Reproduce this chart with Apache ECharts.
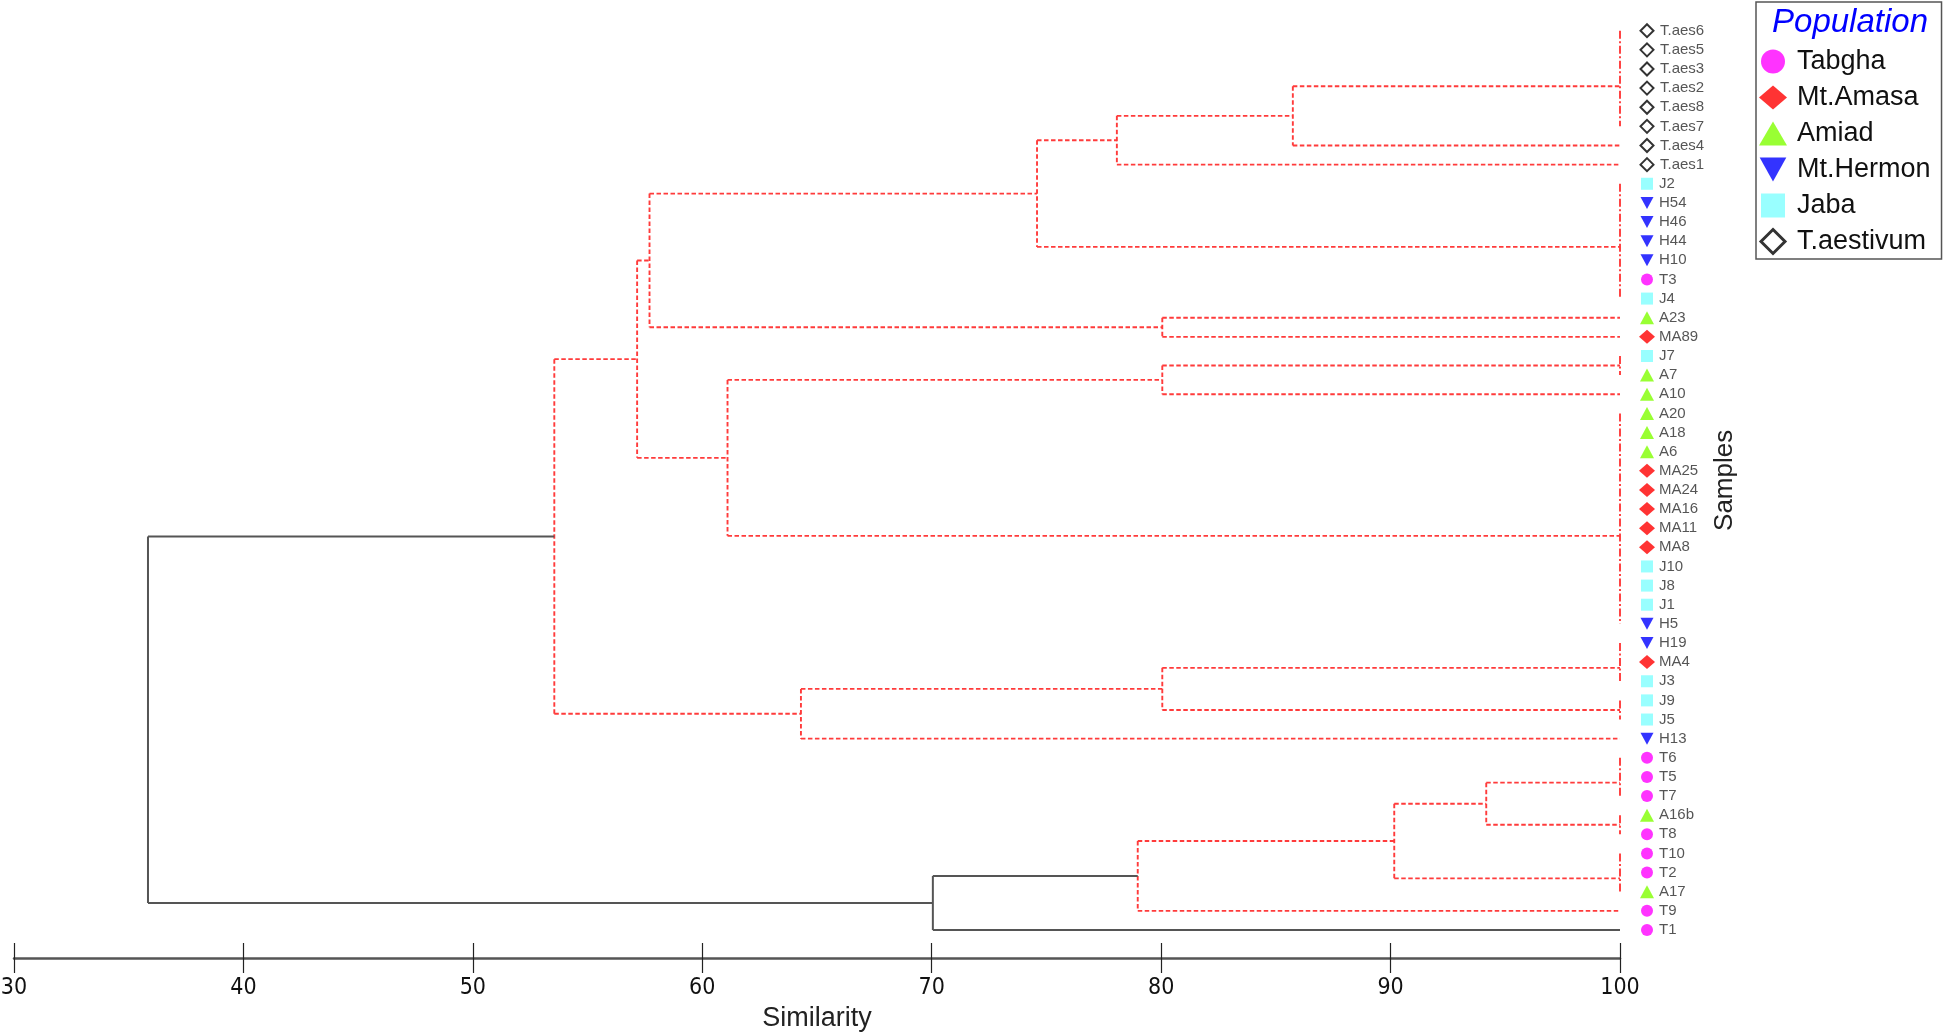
<!DOCTYPE html>
<html>
<head>
<meta charset="utf-8">
<script src="https://cdn.jsdelivr.net/npm/echarts@6/dist/echarts.min.js"></script>
<style>
html,body{margin:0;padding:0;background:#fff;}
#chart{width:1946px;height:1032px;}
</style>
</head>
<body>
<div id="chart"></div>
<script>
// ---- data ----
const populations = ['Tabgha', 'Mt.Amasa', 'Amiad', 'Mt.Hermon', 'Jaba', 'T.aestivum'];
const leafNames = ['T.aes6','T.aes5','T.aes3','T.aes2','T.aes8','T.aes7','T.aes4','T.aes1',
  'J2','H54','H46','H44','H10','T3','J4','A23','MA89','J7','A7','A10','A20','A18','A6',
  'MA25','MA24','MA16','MA11','MA8','J10','J8','J1','H5','H19','MA4','J3','J9','J5','H13',
  'T6','T5','T7','A16b','T8','T10','T2','A17','T9','T1'];
const leafPop = [5,5,5,5,5,5,5,5, 4,3,3,3,3,0,4, 2,1, 4,2,2, 2,2,2, 1,1,1,1,1,
  4,4,4, 3,3, 1, 4,4,4, 3, 0,0,0, 2, 0,0,0, 2, 0,0];
// groups of samples joined at similarity 100 (first row, last row, row of link)
const tieFirst = [0, 8, 17, 20, 32, 35, 38, 41, 43];
const tieLast  = [5, 14, 18, 31, 34, 36, 40, 42, 45];
const tieRow   = [2.9, 11.3, 17.5, 26.4, 33.3, 35.5, 39.3, 41.5, 44.3];
// internal nodes: similarity level and the two joined branches
const nodeSim   = [85.74, 78.07, 74.59, 80.05, 57.7, 80.05, 61.1, 57.16, 80.05, 64.3, 53.55, 94.17, 90.16, 78.98, 70.05, 35.84];
const nodeLeft  = ['g0','n0','n1','r15','n2','g2','n5','n4','g4','n8','n7','g6','n11','n12','n13','n10'];
const nodeRight = ['r6','r7','g1','r16','n3','r19','g3','n6','g5','r37','n9','g7','g8','r46','r47','n14'];
const solidNodes = [14, 15];
const xTicks = [30, 40, 50, 60, 70, 80, 90, 100];

// ---- build the dendrogram segments ----
const segments = [];
function place(ref) {
  const t = ref[0], i = parseInt(ref.slice(1), 10);
  if (t === 'r') return { x: 100, y: i };
  if (t === 'g') {
    segments.push([100, tieFirst[i], 100, tieLast[i], 2]);
    return { x: 100, y: tieRow[i] };
  }
  const a = place(nodeLeft[i]);
  const b = place(nodeRight[i]);
  const x = nodeSim[i];
  const k = solidNodes.indexOf(i) >= 0 ? 1 : 0;
  segments.push([x, a.y, x, b.y, k]);
  segments.push([x, a.y, a.x, a.y, k]);
  segments.push([x, b.y, b.x, b.y, k]);
  return { x: x, y: (a.y + b.y) / 2 };
}
place('n' + (nodeSim.length - 1));

const popSymbols = ['circle', 'diamond', 'triangle', 'path://M0,0L20,0L10,18Z', 'rect', 'diamond'];
const popSizes = [[12,12],[16,14],[14,13],[13,12],[12,12],[13,13]];
const popColors = ['#ff00ff', '#ff0000', '#80ff00', '#0000ff', '#80ffff', '#ffffff'];
const legendIcons = ['circle', 'diamond', 'triangle', 'path://M0,0L20,0L10,18Z',
  'path://M0,0h22v22h-22z', 'path://M12,0L24,12L12,24L0,12Z'];

const FONT = 'Liberation Sans, Arial, sans-serif';
const scatterSeries = populations.map(function (p, pi) {
  const data = [];
  leafNames.forEach(function (n, r) {
    if (leafPop[r] === pi) data.push({ name: n, value: [100, r] });
  });
  const sz = popSizes[pi];
  return {
    name: p,
    type: 'scatter',
    data: data,
    symbol: popSymbols[pi],
    symbolSize: sz,
    symbolOffset: [27, 0],
    clip: false,
    z: 5,
    itemStyle: pi === 5 ? { color: '#fff', borderColor: '#000', borderWidth: 2 } : { color: popColors[pi] },
    label: {
      show: true, position: 'right', distance: 12 - sz[0] / 2,
      formatter: '{b}', color: '#2a2a2a', fontSize: 15, fontFamily: FONT
    },
    emphasis: { disabled: true }
  };
});

const chart = echarts.init(document.getElementById('chart'), null, { renderer: 'canvas' });
chart.setOption({
  animation: false,
  backgroundColor: '#fff',
  title: {
    text: 'Population', left: 1850, top: 6, textAlign: 'center', padding: 0,
    textStyle: { color: '#0000ff', fontStyle: 'italic', fontWeight: 'normal', fontSize: 33, fontFamily: FONT }
  },
  legend: {
    orient: 'vertical', left: 1756, top: 2,
    padding: [46, 11, 4, 3],
    borderColor: '#555', borderWidth: 1.5,
    itemWidth: 28, itemHeight: 24, itemGap: 9,
    selectedMode: false,
    textStyle: { color: '#111', fontSize: 27, fontFamily: FONT, padding: [0, 0, 0, 5] },
    data: populations.map(function (p, i) {
      return {
        name: p, icon: legendIcons[i],
        itemStyle: i === 5 ? { color: '#fff', borderColor: '#000', borderWidth: 3 } : { color: popColors[i], borderWidth: 0 }
      };
    })
  },
  grid: { left: 14, right: 326, top: 30.7, bottom: 102, containLabel: false, outerBoundsMode: 'none' },
  xAxis: [{
    type: 'value', min: 30, max: 100, interval: 10, position: 'bottom', offset: 28,
    name: 'Similarity', nameLocation: 'middle', nameGap: 45,
    nameTextStyle: { color: '#222', fontSize: 27, fontFamily: FONT },
    axisLine: { show: true, onZero: false, lineStyle: { color: '#555', width: 2.5 } },
    axisTick: { show: true, length: 15, lineStyle: { color: '#222', width: 1.2 } },
    axisLabel: {
      margin: 19, color: '#111', fontSize: 23, fontFamily: 'Liberation Sans Narrow, Arial Narrow, DejaVu Sans Condensed, sans-serif',
      customValues: xTicks
    },
    splitLine: { show: false }
  }, {
    // upper half of the crossing ticks, placed on the same axis line
    type: 'value', min: 30, max: 100, interval: 10, position: 'top', offset: -927.3,
    axisLine: { show: false, onZero: false },
    axisTick: { show: true, length: 15, lineStyle: { color: '#222', width: 1.2 } },
    axisLabel: { show: false },
    splitLine: { show: false }
  }],
  yAxis: {
    type: 'value', min: 0, max: 47, inverse: true, position: 'right',
    name: 'Samples', nameLocation: 'middle', nameGap: 92,
    nameTextStyle: { color: '#222', fontSize: 26, fontFamily: FONT },
    axisLine: { show: false, onZero: false }, axisTick: { show: false }, axisLabel: { show: false }, splitLine: { show: false }
  },
  series: [{
    type: 'custom',
    name: 'dendrogram',
    data: segments,
    encode: { x: [0, 2], y: [1, 3] },
    clip: false,
    silent: true,
    renderItem: function (params, api) {
      const p1 = api.coord([api.value(0), api.value(1)]);
      const p2 = api.coord([api.value(2), api.value(3)]);
      const k = api.value(4);
      const style = k === 1
        ? { stroke: '#555', lineWidth: 2, lineDash: null }
        : k === 2
          ? { stroke: '#ff3b3b', lineWidth: 1.9, lineDash: [8, 2.5, 2, 2.5] }
          : { stroke: '#ff3b3b', lineWidth: 1.9, lineDash: [4.5, 2.5] };
      return { type: 'line', shape: { x1: p1[0], y1: p1[1], x2: p2[0], y2: p2[1] }, style: style };
    }
  }].concat(scatterSeries)
});
</script>
</body>
</html>
